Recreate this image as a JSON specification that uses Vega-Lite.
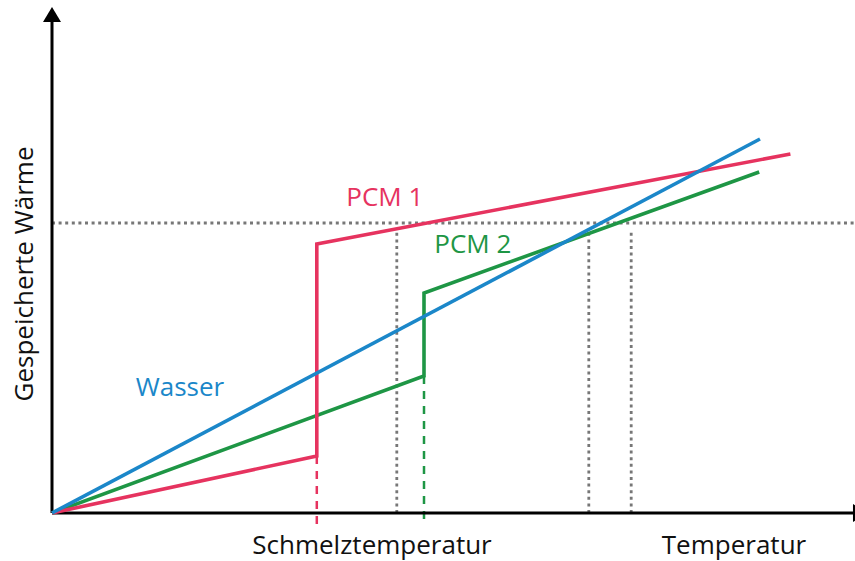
{
  "$schema": "https://vega.github.io/schema/vega-lite/v6.json",
  "width": 800,
  "height": 500,
  "autosize": "none",
  "padding": {"left": 52, "top": 13, "right": 3, "bottom": 48},
  "background": "white",
  "config": {"view": {"stroke": null}},
  "datasets": {
    "lines": [
      {"s": "PCM 2", "i": 0, "x": 0, "y": 0},
      {"s": "PCM 2", "i": 1, "x": 46.5, "y": 27.4},
      {"s": "PCM 2", "i": 2, "x": 46.5, "y": 44},
      {"s": "PCM 2", "i": 3, "x": 88.4, "y": 68.2},
      {"s": "PCM 1", "i": 0, "x": 0, "y": 0},
      {"s": "PCM 1", "i": 1, "x": 33.1, "y": 11.4},
      {"s": "PCM 1", "i": 2, "x": 33.1, "y": 53.8},
      {"s": "PCM 1", "i": 3, "x": 92.3, "y": 71.8},
      {"s": "Wasser", "i": 0, "x": 0, "y": 0},
      {"s": "Wasser", "i": 1, "x": 88.5, "y": 74.8}
    ],
    "dashed": [
      {"s": "PCM 1", "x": 33.1, "y": 11.4, "y2": -3},
      {"s": "PCM 2", "x": 46.5, "y": 27.4, "y2": -2.6}
    ],
    "dottedV": [
      {"x": 43.1, "y": 0, "y2": 56.6},
      {"x": 67.1, "y": 0, "y2": 56.2},
      {"x": 72.4, "y": 0, "y2": 56.2}
    ],
    "dottedH": [
      {"x": 0, "x2": 100.4, "y": 58}
    ],
    "axes": [
      {"x": 0, "y": 0, "x2": 100.3, "y2": 0},
      {"x": 0, "y": 0, "x2": 0, "y2": 98.6}
    ],
    "arrows": [
      {"dir": "up", "x": 0, "y": 99.7},
      {"dir": "right", "x": 101.06, "y": 0}
    ],
    "labels": [
      {"s": "PCM 1", "t": "PCM 1", "x": 41.6, "y": 61.4},
      {"s": "PCM 2", "t": "PCM 2", "x": 52.6, "y": 52},
      {"s": "Wasser", "t": "Wasser", "x": 16, "y": 23.4},
      {"s": "text", "t": "Schmelztemperatur", "x": 40, "y": -8.1},
      {"s": "text", "t": "Temperatur", "x": 85.25, "y": -8.1}
    ],
    "ylabel": [
      {"t": "Gespeicherte Wärme", "x": -2.4, "y": 47.8}
    ]
  },
  "layer": [
    {
      "data": {"name": "dottedH"},
      "mark": {"type": "rule", "stroke": "#777777", "strokeWidth": 2.8, "strokeDash": [3, 3.6], "clip": false},
      "encoding": {
        "x": {"field": "x", "type": "quantitative", "scale": {"domain": [0, 100], "nice": false, "zero": false}, "axis": null},
        "x2": {"field": "x2"},
        "y": {"field": "y", "type": "quantitative", "scale": {"domain": [0, 100], "nice": false, "zero": false}, "axis": null}
      }
    },
    {
      "data": {"name": "dottedV"},
      "mark": {"type": "rule", "stroke": "#777777", "strokeWidth": 2.8, "strokeDash": [3, 3.6], "clip": false},
      "encoding": {
        "x": {"field": "x", "type": "quantitative"},
        "y": {"field": "y", "type": "quantitative"},
        "y2": {"field": "y2"}
      }
    },
    {
      "data": {"name": "dashed"},
      "mark": {"type": "rule", "strokeWidth": 2.5, "strokeDash": [8, 7], "clip": false},
      "encoding": {
        "x": {"field": "x", "type": "quantitative"},
        "y": {"field": "y", "type": "quantitative"},
        "y2": {"field": "y2"},
        "color": {"field": "s", "type": "nominal", "scale": {"domain": ["PCM 1", "PCM 2", "Wasser", "text"], "range": ["#e6335f", "#1e9645", "#1b87c9", "#111111"]}, "legend": null}
      }
    },
    {
      "data": {"name": "axes"},
      "mark": {"type": "rule", "stroke": "#000000", "strokeWidth": 3, "clip": false},
      "encoding": {
        "x": {"field": "x", "type": "quantitative"},
        "x2": {"field": "x2"},
        "y": {"field": "y", "type": "quantitative"},
        "y2": {"field": "y2"}
      }
    },
    {
      "data": {"name": "arrows"},
      "mark": {"type": "point", "filled": true, "fill": "#000000", "stroke": null, "opacity": 1, "size": 225, "clip": false},
      "encoding": {
        "x": {"field": "x", "type": "quantitative"},
        "y": {"field": "y", "type": "quantitative"},
        "shape": {"field": "dir", "type": "nominal", "scale": {"domain": ["up", "right"], "range": ["M0,-1L1.2,1L-1.2,1Z", "M1,0L-1,-1.2L-1,1.2Z"]}, "legend": null}
      }
    },
    {
      "data": {"name": "lines"},
      "mark": {"type": "line", "strokeWidth": 3.6, "strokeJoin": "miter", "strokeCap": "butt", "clip": false},
      "encoding": {
        "x": {"field": "x", "type": "quantitative"},
        "y": {"field": "y", "type": "quantitative"},
        "detail": {"field": "s"},
        "order": {"field": "i", "type": "quantitative"},
        "color": {"field": "s", "type": "nominal", "legend": null}
      }
    },
    {
      "data": {"name": "labels"},
      "mark": {"type": "text", "font": "Open Sans", "fontSize": 26, "align": "center", "baseline": "alphabetic", "clip": false},
      "encoding": {
        "x": {"field": "x", "type": "quantitative"},
        "y": {"field": "y", "type": "quantitative"},
        "text": {"field": "t"},
        "color": {"field": "s", "type": "nominal", "legend": null}
      }
    },
    {
      "data": {"name": "ylabel"},
      "mark": {"type": "text", "font": "Open Sans", "fontSize": 26, "align": "center", "baseline": "alphabetic", "angle": 270, "color": "#111111", "clip": false},
      "encoding": {
        "x": {"field": "x", "type": "quantitative"},
        "y": {"field": "y", "type": "quantitative"},
        "text": {"field": "t"}
      }
    }
  ]
}
